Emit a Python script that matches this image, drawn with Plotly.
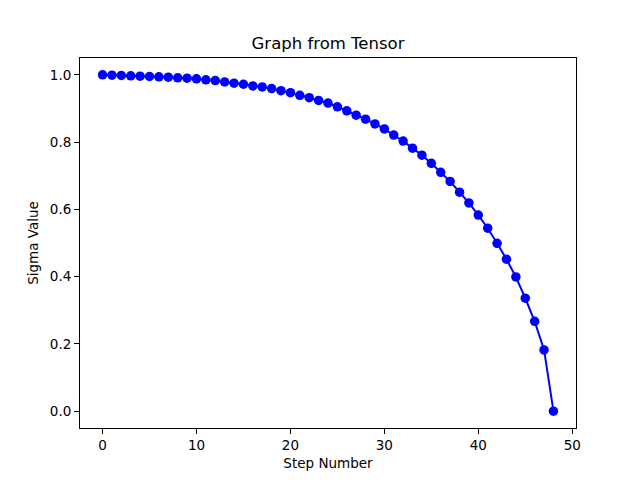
import plotly.graph_objects as go

# Sigma values per step
steps = list(range(49))
sigma = [
    1.000, 0.999, 0.998, 0.997, 0.996, 0.995, 0.994, 0.993, 0.991, 0.990,
    0.988, 0.985, 0.983, 0.979, 0.975, 0.972, 0.967, 0.964, 0.959, 0.953,
    0.947, 0.939, 0.932, 0.924, 0.916, 0.905, 0.893, 0.880, 0.868, 0.854,
    0.839, 0.821, 0.803, 0.782, 0.761, 0.737, 0.710, 0.683, 0.651, 0.619,
    0.583, 0.544, 0.499, 0.452, 0.399, 0.336, 0.267, 0.182, 0.000,
]
x_ticks = [0, 10, 20, 30, 40, 50]
y_ticks = [0.0, 0.2, 0.4, 0.6, 0.8, 1.0]

_AXIS_STYLE = dict(
    showgrid=False,
    zeroline=False,
    showline=True,
    linecolor="black",
    linewidth=1,
    mirror=True,
    ticks="outside",
    ticklen=5,
    tickwidth=1,
    tickcolor="black",
    tickfont=dict(size=13.5, color="black"),
    title_font=dict(size=13.5, color="black"),
)

fig = go.Figure()
fig.add_trace(
    go.Scatter(
        x=steps,
        y=sigma,
        mode="lines+markers",
        line=dict(color="#0000ff", width=2),
        marker=dict(color="#0000ff", size=9.5),
        showlegend=False,
    )
)

fig.update_xaxes(
    range=[-2.4, 50.4],
    tickvals=x_ticks,
    ticktext=[str(t) for t in x_ticks],
    title_text="Step Number",
    title_standoff=6,
    **_AXIS_STYLE,
)
fig.update_yaxes(
    range=[-0.05, 1.05],
    tickvals=y_ticks,
    ticktext=[f"{t:.1f}" for t in y_ticks],
    title_text="Sigma Value",
    title_standoff=8,
    **_AXIS_STYLE,
)
# page body adds an 8px offset, so margins are shifted to compensate
fig.update_layout(
    width=640,
    height=480,
    autosize=False,
    margin=dict(l=72, r=72, t=50, b=60),
    title=dict(
        text="Graph from Tensor",
        x=0.5,
        xanchor="center",
        y=1 - 35 / 480,
        yanchor="middle",
        font=dict(size=16.5, color="black"),
    ),
    font=dict(family="DejaVu Sans", color="black"),
    plot_bgcolor="white",
    paper_bgcolor="white",
)

fig.write_html("out.html")
